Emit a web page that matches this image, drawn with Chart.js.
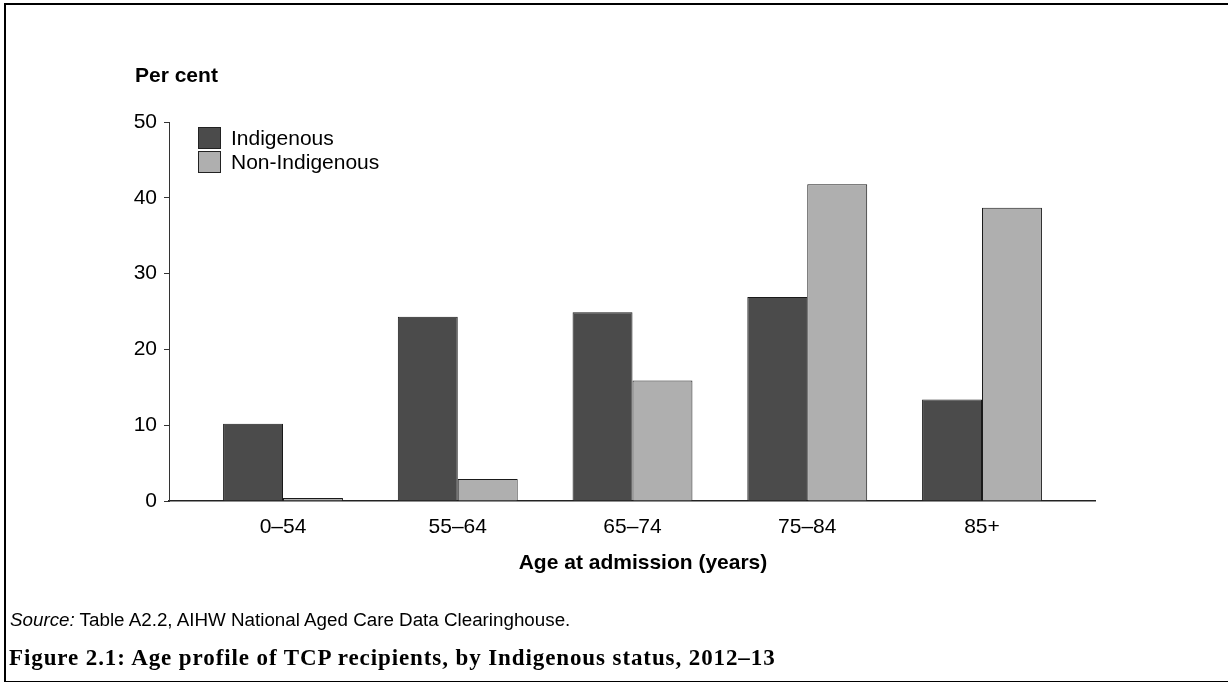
<!DOCTYPE html>
<html>
<head>
<meta charset="utf-8">
<script src="https://cdn.jsdelivr.net/npm/chart.js@4.4.0/dist/chart.umd.min.js"></script>
<style>
  html, body { margin: 0; padding: 0; background: #fff; }
  body { width: 1228px; height: 682px; position: relative; overflow: hidden; font-family: 'Liberation Sans', Arial, sans-serif; color: #000; }
  .frame { position: absolute; left: 4px; top: 3px; width: 1240px; height: 676px; border-top: 2px solid #000; border-left: 2px solid #000; border-bottom: 2px solid #000; }
  .chart-wrap { position: absolute; left: 0; top: 0; width: 1228px; height: 682px; }
  .txt { position: absolute; white-space: nowrap; line-height: 1; }
  .legend-row { position: absolute; left: 198px; height: 24px; display: flex; align-items: center; font-size: 21px; }
  .legend-box { width: 21px; height: 20px; border: 1.5px solid #222; margin-right: 10px; }
</style>
</head>
<body>
<div class="frame"></div>
<div class="chart-wrap"><canvas id="chart-age"></canvas></div>

<div class="txt" style="left:135px;top:64px;font-size:21px;font-weight:bold">Per cent</div>
<div id="legend"></div>
<div class="txt" style="left:0;width:1286px;text-align:center;top:551px;font-size:21px;font-weight:bold">Age at admission (years)</div>
<div class="txt" style="left:10px;top:611px;font-size:18.8px"><i>Source:</i> Table A2.2, AIHW National Aged Care Data Clearinghouse.</div>
<div class="txt" style="left:9px;top:646px;font-size:23px;letter-spacing:0.9px;font-weight:bold;font-family:'Liberation Serif','Times New Roman',serif">Figure 2.1: Age profile of TCP recipients, by Indigenous status, 2012–13</div>

<script>
const categories    = ['0–54', '55–64', '65–74', '75–84', '85+'];
const indigenous    = [10.2, 24.3, 24.9, 26.9, 13.4];
const nonIndigenous = [0.4, 2.9, 15.9, 41.8, 38.7];
const seriesNames   = ['Indigenous', 'Non-Indigenous'];
const yTicks        = [0, 10, 20, 30, 40, 50];

const darkFill  = '#4b4b4b';
const lightFill = '#afafaf';
const edge      = '#1a1a1a';
const font      = { family: "'Liberation Sans', Arial, sans-serif", size: 21 };

document.getElementById('legend').innerHTML = seriesNames.map((name, i) => `
  <div class="legend-row" style="top:${126 + i * 24}px">
    <div class="legend-box" style="background:${i === 0 ? darkFill : lightFill}"></div>${name}
  </div>`).join('');

const toPoints = arr => arr.map((v, i) => ({ x: i, y: v }));

new Chart(document.getElementById('chart-age'), {
  type: 'bar',
  data: {
    datasets: [
      { label: seriesNames[0], data: toPoints(indigenous),    backgroundColor: darkFill,  borderColor: edge, borderWidth: 1 },
      { label: seriesNames[1], data: toPoints(nonIndigenous), backgroundColor: lightFill, borderColor: edge, borderWidth: 1 },
    ]
  },
  options: {
    responsive: true, maintainAspectRatio: false, animation: false,
    categoryPercentage: 0.686, barPercentage: 1,
    layout: { padding: { left: 109, top: 122, right: 133, bottom: 141 } },
    plugins: { legend: { display: false }, tooltip: { enabled: false } },
    scales: {
      x: {
        type: 'linear', min: -0.6524, max: 4.6466, offset: false,
        afterBuildTicks: s => { s.ticks = categories.map((c, i) => ({ value: i })); },
        afterFit: s => { s.height = 40; },
        ticks: { color: '#000', font, padding: 14, maxRotation: 0, autoSkip: false, callback: v => categories[v] },
        grid: { display: false, drawTicks: false },
        border: { color: '#222', width: 1.5 }
      },
      y: {
        min: 0, max: 50,
        afterBuildTicks: s => { s.ticks = yTicks.map(v => ({ value: v })); },
        afterFit: s => { s.width = 60; },
        ticks: { color: '#000', font, padding: 7 },
        grid: { drawOnChartArea: false, tickLength: 5, color: '#333' },
        border: { color: '#333', width: 1 }
      }
    }
  }
});
</script>
</body>
</html>
